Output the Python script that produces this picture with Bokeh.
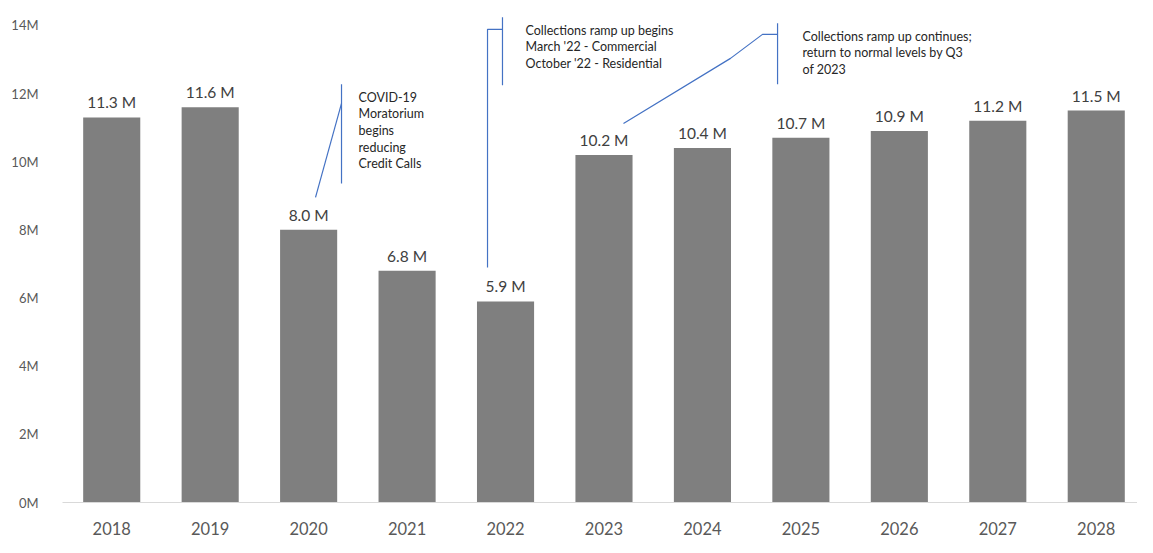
from bokeh.plotting import figure
from bokeh.models import ColumnDataSource, FixedTicker, PrintfTickFormatter, Range1d
from bokeh.core.properties import value
from bokeh.embed import file_html
from bokeh.resources import INLINE

# ---------------- data ----------------
years = ["2018", "2019", "2020", "2021", "2022", "2023", "2024", "2025", "2026", "2027", "2028"]
calls_m = [11.3, 11.6, 8.0, 6.8, 5.9, 10.2, 10.4, 10.7, 10.9, 11.2, 11.5]
y_ticks = [0, 2, 4, 6, 8, 10, 12, 14]

# annotation texts
covid_text = ["COVID-19", "Moratorium", "begins", "reducing", "Credit Calls"]
ramp_text = ["Collections ramp up begins", "March '22 - Commercial", "October '22 - Residential"]
cont_text = ["Collections ramp up continues;", "return to normal levels by Q3", "of 2023"]

# annotation leader lines (x in category index units, y in millions)
covid_leader_x = [2.070, 2.334]
covid_leader_y = [8.952, 11.711]
covid_bracket_x = [2.334, 2.334]
covid_bracket_y = [9.363, 12.269]
covid_anchor = (2.507, 11.887)

ramp_leader_x = [3.817, 3.817, 3.969]
ramp_leader_y = [6.898, 13.883, 13.883]
ramp_bracket_x = [3.969, 3.969]
ramp_bracket_y = [12.240, 14.235]
ramp_anchor = (4.203, 13.854)

cont_leader_x = [5.198, 6.285, 6.610, 6.763]
cont_leader_y = [11.124, 13.032, 13.736, 13.736]
cont_bracket_x = [6.763, 6.763]
cont_bracket_y = [12.269, 14.059]
cont_anchor = (7.016, 13.678)

FONT = "Lato"
BLUE = "#4472C4"

idx = list(range(len(years)))
src = ColumnDataSource(dict(x=idx, y=calls_m, lbl=[f"{v:.1f} M" for v in calls_m]))

p = figure(width=1137, height=537, output_backend="svg", toolbar_location=None,
           x_range=Range1d(-0.5, 10.419), y_range=Range1d(0, 14.73),
           min_border_left=62, min_border_right=0, min_border_top=0, min_border_bottom=35)
p.outline_line_color = None
p.background_fill_color = "white"
p.border_fill_color = "white"
p.xgrid.grid_line_color = None
p.ygrid.grid_line_color = None

p.vbar(x="x", top="y", width=0.58, source=src, fill_color="#7F7F7F", line_color=None)
p.text(x="x", y="y", text="lbl", source=src, text_align="center", text_baseline="alphabetic",
       y_offset=-15, text_font=value(FONT), text_font_size="15.5px", text_color="#404040")

# axes
p.xaxis.ticker = FixedTicker(ticks=idx)
p.xaxis.major_label_overrides = {i: y for i, y in zip(idx, years)}
p.xaxis.axis_line_color = "#D9D9D9"
p.xaxis.axis_line_width = 1
p.xaxis.major_tick_line_color = None
p.xaxis.minor_tick_line_color = None
p.xaxis.major_tick_out = 0
p.xaxis.major_tick_in = 0
p.xaxis.major_label_standoff = 19
p.xaxis.major_label_text_font = FONT
p.xaxis.major_label_text_font_size = "16.5px"
p.xaxis.major_label_text_color = "#595959"

p.yaxis.ticker = FixedTicker(ticks=y_ticks)
p.yaxis.formatter = PrintfTickFormatter(format="%dM")
p.yaxis.axis_line_color = None
p.yaxis.major_tick_line_color = None
p.yaxis.minor_tick_line_color = None
p.yaxis.major_tick_out = 0
p.yaxis.major_tick_in = 0
p.yaxis.major_label_standoff = 24
p.yaxis.major_label_text_font = FONT
p.yaxis.major_label_text_font_size = "13px"
p.yaxis.major_label_text_color = "#595959"

# annotations
for lx, ly in [(covid_leader_x, covid_leader_y), (covid_bracket_x, covid_bracket_y),
               (ramp_leader_x, ramp_leader_y), (ramp_bracket_x, ramp_bracket_y),
               (cont_leader_x, cont_leader_y), (cont_bracket_x, cont_bracket_y)]:
    p.line(lx, ly, line_color=BLUE, line_width=1.2)

for lines, (ax, ay) in [(covid_text, covid_anchor), (ramp_text, ramp_anchor), (cont_text, cont_anchor)]:
    n = len(lines)
    tsrc = ColumnDataSource(dict(x=[ax] * n, y=[ay] * n, t=lines, off=[i * 16.6 for i in range(n)]))
    p.text(x="x", y="y", text="t", y_offset="off", source=tsrc, text_align="left",
           text_baseline="middle", text_font=value(FONT), text_font_size="12.5px",
           text_color="#262626")

open("out.html", "w").write(file_html(p, INLINE))
